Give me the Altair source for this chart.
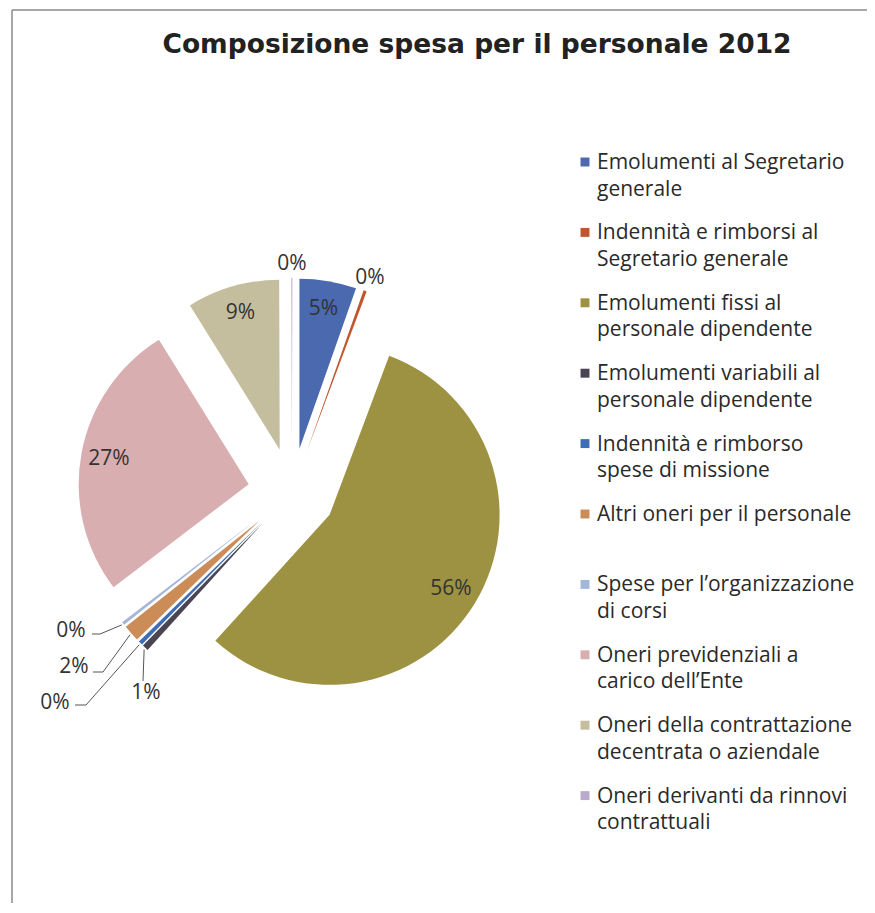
import altair as alt
import pandas as pd

# ---- data ----
categories = [
    "Emolumenti al Segretario generale",
    "Indennità e rimborsi al Segretario generale",
    "Emolumenti fissi al personale dipendente",
    "Emolumenti variabili al personale dipendente",
    "Indennità e rimborso spese di missione",
    "Altri oneri per il personale",
    "Spese per l’organizzazione di corsi",
    "Oneri previdenziali a carico dell’Ente",
    "Oneri della contrattazione decentrata o aziendale",
    "Oneri derivanti da rinnovi contrattuali",
]
legend_labels = [
    "Emolumenti al Segretario\ngenerale",
    "Indennità e rimborsi al\nSegretario generale",
    "Emolumenti fissi al\npersonale dipendente",
    "Emolumenti variabili al\npersonale dipendente",
    "Indennità e rimborso\nspese di missione",
    "Altri oneri per il personale",
    "Spese per l’organizzazione\ndi corsi",
    "Oneri previdenziali a\ncarico dell’Ente",
    "Oneri della contrattazione\ndecentrata o aziendale",
    "Oneri derivanti da rinnovi\ncontrattuali",
]
shares = [5.4, 0.3, 56.0, 0.6, 0.4, 1.6, 0.3, 26.5, 8.8, 0.1]
colors = ["#4a69ae", "#c0562e", "#9d9242", "#4a4552", "#3d6db6",
          "#cc8c58", "#a4b6da", "#d8aeb0", "#c5be9e", "#b8a9cd"]
title_text = "Composizione spesa per il personale 2012"

# ---- layout / style (pixels) ----
W, H = 859, 895
CX, CY = 284, 484      # pie centre
R = 170                # pie radius
EXPLODE = 44           # explosion distance of each slice
R_IN, R_OUT = 142, 184 # label radii
FONT = "Open Sans"
FS = 21

# manually placed labels with leader lines (offsets from pie centre)
leader_layout = {
    "Emolumenti variabili al personale dipendente": (-146, 201, -149, 189, -149),
    "Indennità e rimborso spese di missione": (-237, 211, -206, 213, -217),
    "Altri oneri per il personale": (-218, 175, -189, 180, -199),
    "Spese per l’organizzazione di corsi": (-221, 139, -192, 142, -200),
}

rows = []
for i, (c, lab, s) in enumerate(zip(categories, legend_labels, shares)):
    lay = leader_layout.get(c)
    rows.append({
        "category": c, "legend": lab, "share": s, "order": i,
        "leader": lay is not None,
        "lx": lay[0] if lay else 0, "ly": lay[1] if lay else 0,
        "ex": lay[2] if lay else 0, "ey": lay[3] if lay else 0,
        "hx": lay[4] if lay else 0,
    })
df = pd.DataFrame(rows)

color = alt.Color("category:N", scale=alt.Scale(domain=categories, range=colors), legend=None)

base = (
    alt.Chart(df)
    .transform_joinaggregate(total="sum(share)")
    .transform_window(cum="sum(share)", sort=[alt.SortField("order")], frame=[None, 0])
    .transform_calculate(
        start="datum.cum - datum.share",
        end="datum.cum",
        midv="datum.cum - datum.share / 2",
    )
    .transform_calculate(
        mid="datum.midv / datum.total * 2 * PI",
        pct="format(datum.share / datum.total, '.0%')",
    )
    .transform_calculate(
        cx=f"{CX} + {EXPLODE} * sin(datum.mid)",
        cy=f"{CY} - {EXPLODE} * cos(datum.mid)",
    )
    .transform_calculate(
        ox=f"datum.cx + {R + 2} * sin(datum.mid)",
        oy=f"datum.cy - {R + 2} * cos(datum.mid)",
        labx=f"{CX} + datum.lx",
        laby=f"{CY} + datum.ly",
        elx=f"{CX} + datum.ex",
        ely=f"{CY} + datum.ey",
        hzx=f"{CX} + datum.hx",
    )
)

xc = alt.X("cx:Q", scale=None)
yc = alt.Y("cy:Q", scale=None)

arcs = base.mark_arc(outerRadius=R).encode(
    theta=alt.Theta("start:Q", stack=None),
    theta2="end:Q",
    x=xc, y=yc, color=color,
)

inside = base.transform_filter("datum.share >= 3").mark_text(
    radius=R_IN, font=FONT, fontSize=FS, color="#333333",
    align="center", baseline="middle",
).encode(theta=alt.Theta("midv:Q", stack=None), x=xc, y=yc, text="pct:N")

outside = base.transform_filter("datum.share < 3 && !datum.leader").mark_text(
    radius=R_OUT, font=FONT, fontSize=FS, color="#333333",
    align="center", baseline="middle",
).encode(theta=alt.Theta("midv:Q", stack=None), x=xc, y=yc, text="pct:N")

lead = base.transform_filter("datum.leader")
leader_diag = lead.mark_rule(color="#555555", strokeWidth=1).encode(
    x=alt.X("ox:Q", scale=None), y=alt.Y("oy:Q", scale=None),
    x2="elx:Q", y2="ely:Q",
)
leader_h = lead.mark_rule(color="#555555", strokeWidth=1).encode(
    x=alt.X("elx:Q", scale=None), y=alt.Y("ely:Q", scale=None),
    x2="hzx:Q", y2="ely:Q",
)
leader_text = lead.mark_text(
    font=FONT, fontSize=FS, color="#333333", align="center", baseline="middle"
).encode(x=alt.X("labx:Q", scale=None), y=alt.Y("laby:Q", scale=None), text="pct:N")

# ---- legend (drawn as marks) ----
LEG_X, LEG_Y0, LEG_DY = 577, 154, 70.4
leg = alt.Chart(df).transform_calculate(ly0=f"{LEG_Y0} + datum.order * {LEG_DY}")
leg_sym = leg.mark_square(size=80, opacity=1).encode(
    x=alt.value(LEG_X), y=alt.Y("ly0:Q", scale=None), color=color
)
leg_txt = leg.transform_calculate(lyb="datum.ly0 + 7").mark_text(
    font=FONT, fontSize=FS, color="#2a2a2a", align="left",
    baseline="alphabetic", lineBreak="\n", lineHeight=26.5,
).encode(x=alt.value(LEG_X + 12), y=alt.Y("lyb:Q", scale=None), text="legend:N")

title = alt.Chart(pd.DataFrame({"t": [title_text]})).mark_text(
    font="DejaVu Sans", fontWeight="bold", fontSize=26.5, color="#222222",
    align="center", baseline="middle",
).encode(x=alt.value(469), y=alt.value(37), text="t:N")

border_l = alt.Chart(pd.DataFrame({"a": [0]})).mark_rule(color="#8a8a8a", strokeWidth=1.5).encode(
    x=alt.value(4), y=alt.value(2), y2=alt.value(H)
)
border_t = alt.Chart(pd.DataFrame({"a": [0]})).mark_rule(color="#8a8a8a", strokeWidth=1.5).encode(
    x=alt.value(4), x2=alt.value(W), y=alt.value(2)
)

chart = alt.layer(
    border_l, border_t, arcs, inside, outside, leader_diag, leader_h, leader_text,
    leg_sym, leg_txt, title,
).properties(
    width=W, height=H, autosize="none", padding=0, background="white"
).configure_view(stroke=None)

chart.save("out.html", embed_options={"renderer": "svg", "actions": False})
